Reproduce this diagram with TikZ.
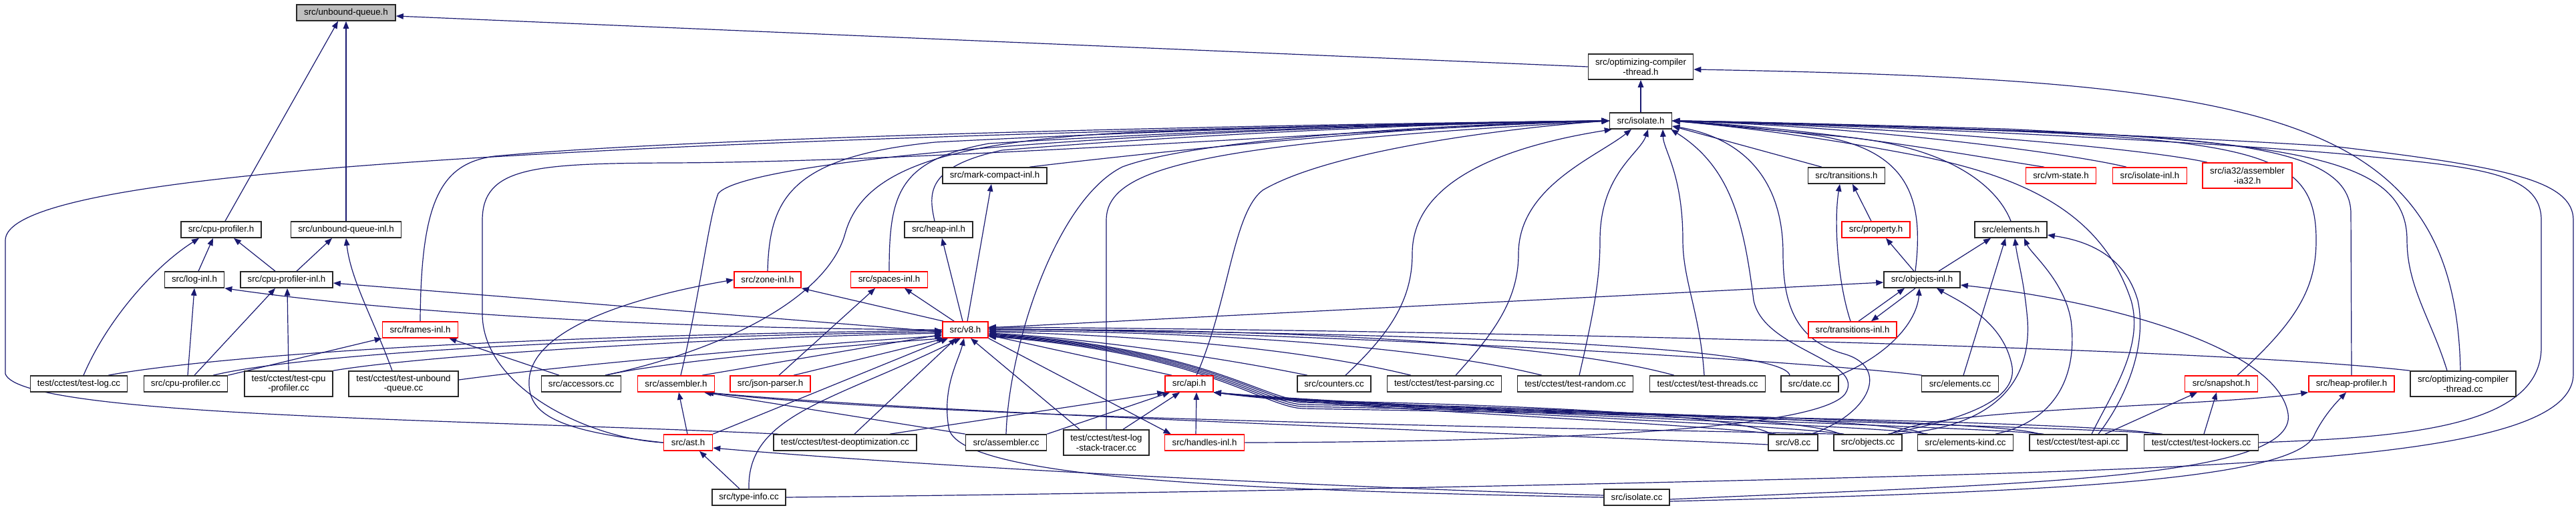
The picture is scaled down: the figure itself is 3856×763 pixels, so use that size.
\documentclass[tikz,border=0pt]{standalone}
\usepackage{fontspec}
\setmainfont{Liberation Sans}
\usetikzlibrary{arrows.meta}
\definecolor{eb}{HTML}{191970}
\definecolor{rootgray}{HTML}{BFBFBF}
\pgfdeclarelayer{bg}
\pgfsetlayers{bg,main}
\tikzset{
  nbox/.style={draw=black!85, line width=1.6pt, fill=white, inner sep=0pt, minimum height=24pt, minimum width=#1, align=center, font=\fontsize{13.3}{14.5}\selectfont},
  rnbox/.style={nbox=#1, draw=red},
  tall/.style={minimum height=38pt},
  edg/.style={draw=eb, line width=1.2pt, -{Triangle[length=11pt,width=8.5pt,fill=eb]}},
}
\begin{document}
\begin{tikzpicture}[x=1pt,y=-1pt]
\useasboundingbox (0,0) rectangle (3856,763);
% row 0-3
\node[nbox=148pt,fill=rootgray] (uq) at (518,19) {src/unbound-queue.h};
\node[nbox=157pt,tall] (opth) at (2456,100) {src/optimizing-compiler\\-thread.h};
\node[nbox=93pt] (iso) at (2456,181) {src/isolate.h};
\node[nbox=156pt] (markinl) at (1489,263) {src/mark-compact-inl.h};
\node[nbox=115pt] (trans) at (2764,263) {src/transitions.h};
\node[rnbox=105pt] (vmstate) at (3085,263) {src/vm-state.h};
\node[rnbox=111pt] (isoinl) at (3218,263) {src/isolate-inl.h};
\node[rnbox=134pt,tall] (ia32) at (3364,263) {src/ia32/assembler\\-ia32.h};
% row 4
\node[nbox=120pt] (cpuprofh) at (331,344) {src/cpu-profiler.h};
\node[nbox=165pt] (uqinl) at (518,344) {src/unbound-queue-inl.h};
\node[nbox=102pt] (heapinl) at (1405,344) {src/heap-inl.h};
\node[rnbox=102pt] (property) at (2808,344) {src/property.h};
\node[nbox=108pt] (elementsh) at (3010,344) {src/elements.h};
% row 5
\node[nbox=89pt] (loginl) at (291,419) {src/log-inl.h};
\node[nbox=138pt] (cpuinl) at (429,419) {src/cpu-profiler-inl.h};
\node[rnbox=100pt] (zoneinl) at (1149,419) {src/zone-inl.h};
\node[rnbox=115pt] (spacesinl) at (1331,419) {src/spaces-inl.h};
\node[nbox=114pt] (objinl) at (2877,419) {src/objects-inl.h};
% row 6
\node[rnbox=113pt] (framesinl) at (629,494) {src/frames-inl.h};
\node[rnbox=68pt] (v8h) at (1445,494) {src/v8.h};
\node[rnbox=132pt] (transinl) at (2773,494) {src/transitions-inl.h};
% row 7
\node[nbox=145pt] (testlog) at (118,575) {test/cctest/test-log.cc};
\node[nbox=125pt] (cpucc) at (278,575) {src/cpu-profiler.cc};
\node[nbox=132pt,tall] (testcpu) at (432,575) {test/cctest/test-cpu\\-profiler.cc};
\node[nbox=164pt,tall] (testuq) at (604,575) {test/cctest/test-unbound\\-queue.cc};
\node[nbox=119pt] (accessors) at (870,575) {src/accessors.cc};
\node[rnbox=115pt] (asmh) at (1012,575) {src/assembler.h};
\node[rnbox=120pt] (json) at (1153,575) {src/json-parser.h};
\node[rnbox=72pt] (apih) at (1780,575) {src/api.h};
\node[nbox=110pt] (counters) at (1997,575) {src/counters.cc};
\node[nbox=171pt] (parsing) at (2162,575) {test/cctest/test-parsing.cc};
\node[nbox=173pt] (random) at (2358,575) {test/cctest/test-random.cc};
\node[nbox=173pt] (threads) at (2556,575) {test/cctest/test-threads.cc};
\node[nbox=86pt] (date) at (2709,575) {src/date.cc};
\node[nbox=115pt] (elemcc) at (2934,575) {src/elements.cc};
\node[rnbox=109pt] (snapshot) at (3325,575) {src/snapshot.h};
\node[rnbox=128pt] (heapprof) at (3520,575) {src/heap-profiler.h};
\node[nbox=158pt,tall] (optcc) at (3687,575) {src/optimizing-compiler\\-thread.cc};
% row 8
\node[rnbox=73pt] (ast) at (1030,663) {src/ast.h};
\node[nbox=214pt] (deopt) at (1265,663) {test/cctest/test-deoptimization.cc};
\node[nbox=121pt] (asmcc) at (1506,663) {src/assembler.cc};
\node[nbox=128pt,tall] (stack) at (1656,663) {test/cctest/test-log\\-stack-tracer.cc};
\node[rnbox=119pt] (handles) at (1803,663) {src/handles-inl.h};
\node[nbox=74pt] (v8cc) at (2684,663) {src/v8.cc};
\node[nbox=102pt] (objcc) at (2796,663) {src/objects.cc};
\node[nbox=143pt] (ekind) at (2942,663) {src/elements-kind.cc};
\node[nbox=146pt] (testapi) at (3111,663) {test/cctest/test-api.cc};
\node[nbox=171pt] (lockers) at (3295,663) {test/cctest/test-lockers.cc};
% row 9
\node[nbox=110pt] (typeinfo) at (1121,745) {src/type-info.cc};
\node[nbox=98pt] (isocc) at (2450,745) {src/isolate.cc};

\begin{pgfonlayer}{bg}
\fill[white] (0,0) rectangle (3856,763);
% unbound-queue.h
\draw[edg] ([xshift=6pt]cpuprofh.north) -- ([xshift=-12pt]uq.south);
\draw[edg] (uqinl.north) -- (uq.south);
\draw[edg] (opth.west) -- ([yshift=-5pt]uq.east);
% optimizing-compiler-thread.h
\draw[edg] (iso.north) -- (opth.south);
\draw[edg] ([xshift=-4pt]optcc.north) .. controls (3675,170) and (3400,120) .. ([yshift=-4pt]opth.east);
% isolate.h from the left
\draw[edg] ([xshift=8pt]deopt.north west) .. controls (700,628) and (30,625) .. (8,560) -- (8,360) .. controls (8,280) and (500,245) .. (1000,221) .. controls (1500,198) and (2150,184) .. (iso.west);
\draw[edg] (ast.west) .. controls (880,657) and (722,580) .. (722,470) -- (722,330) .. controls (722,250) and (800,245) .. (1000,244) .. controls (1400,243) and (2100,190) .. (iso.west);
\draw[edg] (ast.west) .. controls (830,645) and (790,620) .. (792,570) .. controls (795,500) and (920,450) .. (zoneinl.west);
\draw[edg] (framesinl.north) .. controls (630,300) and (660,245) .. (740,234) .. controls (1100,200) and (2150,183) .. (iso.west);
\draw[edg] ([xshift=36pt]accessors.north) .. controls (1100,520) and (1240,440) .. (1265,350) .. controls (1290,260) and (1400,212) .. (1700,198) .. controls (2000,188) and (2250,182) .. (iso.west);
\draw[edg] ([xshift=7pt]asmh.north) .. controls (1050,430) and (1060,330) .. (1075,290) .. controls (1110,245) and (1600,195) .. (iso.west);
\draw[edg] (zoneinl.north) .. controls (1152,300) and (1180,235) .. (1400,213) .. controls (1800,192) and (2200,183) .. (iso.west);
\draw[edg] (spacesinl.north) .. controls (1331,290) and (1345,240) .. (1480,215) .. controls (1800,195) and (2200,183) .. (iso.west);
\draw[edg] ([xshift=-6pt]heapinl.north) .. controls (1390,290) and (1385,250) .. (1500,225) .. controls (1800,200) and (2200,183) .. (iso.west);
\draw[edg] ([xshift=52pt]markinl.north) .. controls (1750,225) and (2150,185) .. (iso.west);
\draw[edg] (asmcc.north) .. controls (1510,520) and (1580,300) .. (1680,250) .. controls (1800,205) and (2200,185) .. (iso.west);
\draw[edg] (stack.north) -- (1656,330) .. controls (1656,250) and (1800,215) .. (iso.west);
\draw[edg] ([xshift=11pt]apih.north) .. controls (1840,450) and (1845,320) .. (1890,285) .. controls (2000,220) and (2300,188) .. (iso.west);
% isolate.h from below
\draw[edg] ([xshift=17pt]counters.north) .. controls (2080,500) and (2114,450) .. (2114,380) .. controls (2114,260) and (2280,215) .. ([xshift=4pt]iso.south west);
\draw[edg] ([xshift=17pt]parsing.north) .. controls (2235,500) and (2273,450) .. (2273,380) .. controls (2273,280) and (2390,235) .. ([xshift=-14pt]iso.south);
\draw[edg] ([xshift=6pt]random.north) .. controls (2385,470) and (2395,420) .. (2395,360) .. controls (2395,260) and (2455,230) .. ([xshift=11pt]iso.south);
\draw[edg] ([xshift=-5pt]threads.north) .. controls (2545,470) and (2519,420) .. (2519,360) .. controls (2519,260) and (2490,225) .. ([xshift=33pt]iso.south);
\draw[edg] (handles.east) .. controls (2300,662) and (2720,645) .. (2762,590) .. controls (2795,540) and (2640,525) .. (2625,450) .. controls (2610,330) and (2590,250) .. ([xshift=-2pt]iso.south east);
\draw[edg] ([xshift=27pt]v8cc.north) .. controls (2800,620) and (2830,550) .. (2760,530) .. controls (2690,510) and (2669,460) .. (2669,380) .. controls (2669,260) and (2600,205) .. ([yshift=-8pt]iso.east);
% isolate.h from the right
\draw[edg] ([xshift=-37pt]trans.north) -- ([yshift=-8pt]iso.east);
\draw[edg] ([xshift=-25pt]vmstate.north) .. controls (2960,235) and (2750,195) .. (iso.east);
\draw[edg] ([xshift=-35pt]isoinl.north) .. controls (3100,230) and (2800,190) .. (iso.east);
\draw[edg] ([xshift=-60pt]ia32.north) .. controls (3200,220) and (2800,188) .. (iso.east);
\draw[edg] (elementsh.north) .. controls (2990,280) and (2920,220) .. (2760,205) .. controls (2650,195) and (2560,186) .. (iso.east);
\draw[edg] ([xshift=-10pt]objinl.north) .. controls (2880,300) and (2860,225) .. (2720,203) .. controls (2620,190) and (2560,185) .. (iso.east);
\draw[edg] ([xshift=24pt]snapshot.north) .. controls (3440,480) and (3467,430) .. (3467,360) .. controls (3467,240) and (3400,212) .. (3000,196) .. controls (2750,187) and (2600,182) .. (iso.east);
\draw[edg] (heapprof.north) -- (3519,320) .. controls (3519,225) and (3350,207) .. (3000,195) .. controls (2750,187) and (2600,182) .. (iso.east);
\draw[edg] ([xshift=-24pt]optcc.north) .. controls (3640,480) and (3603,430) .. (3603,360) .. controls (3603,240) and (3450,215) .. (3000,193) .. controls (2750,186) and (2600,182) .. (iso.east);
\draw[edg] (lockers.east) .. controls (3600,655) and (3804,640) .. (3804,520) -- (3804,330) .. controls (3804,255) and (3700,250) .. (3500,230) .. controls (3200,205) and (2700,185) .. (iso.east);
\draw[edg] (typeinfo.east) .. controls (1800,738) and (2400,726) .. (2900,712) .. controls (3500,695) and (3852,670) .. (3852,560) -- (3852,330) .. controls (3852,270) and (3750,250) .. (3500,220) .. controls (3200,200) and (2700,184) .. (iso.east);
\draw[edg] ([xshift=20pt]testapi.north) .. controls (3160,590) and (3210,520) .. (3190,450) .. controls (3150,330) and (3050,270) .. (2880,235) .. controls (2700,200) and (2560,186) .. (iso.east);
% v8.h includes
\draw[edg] (v8h.west) .. controls (1000,492) and (600,470) .. (loginl.south east);
\draw[edg] ([yshift=-3pt]v8h.west) -- ([yshift=-5pt]cpuinl.east);
\draw[edg] ([xshift=2pt]v8h.north west) -- (zoneinl.south east);
\draw[edg] ([xshift=18pt]v8h.north west) -- ([xshift=23pt]spacesinl.south);
\draw[edg] ([xshift=-4pt]v8h.north) -- ([xshift=5pt]heapinl.south);
\draw[edg] ([xshift=3pt]v8h.north) -- ([xshift=-5pt]markinl.south);
\draw[edg] ([yshift=3pt]v8h.east) -- ([yshift=-4pt]objinl.west);
\draw[edg] (v8h.south east) -- ([xshift=10pt]handles.north west);
% users of v8.h
\draw[edg] ([xshift=44pt]testlog.north) .. controls (250,545) and (600,505) .. ([yshift=-1pt]v8h.west);
\draw[edg] ([xshift=41pt]cpucc.north) .. controls (450,530) and (900,505) .. ([yshift=-3pt]v8h.west);
\draw[edg] (testcpu.north east) .. controls (650,530) and (1100,505) .. ([yshift=-5pt]v8h.west);
\draw[edg] ([yshift=6pt]testuq.east) .. controls (900,540) and (1300,510) .. ([yshift=-9pt]v8h.west);
\draw[edg] ([xshift=36pt]accessors.north) .. controls (1000,540) and (1300,515) .. ([xshift=3pt]v8h.south west);
\draw[edg] ([xshift=39pt]asmh.north) -- ([yshift=-7pt]v8h.west);
\draw[edg] ([xshift=35pt]json.north) -- ([xshift=5pt]v8h.south west);
\draw[edg] (ast.north east) -- ([xshift=9pt]v8h.south west);
\draw[edg] ([xshift=14pt]deopt.north) -- ([xshift=-14pt]v8h.south);
\draw[edg] (typeinfo.north) .. controls (1118,620) and (1250,600) .. ([xshift=-7pt]v8h.south);
\draw[edg] (isocc.west) .. controls (1900,735) and (1430,720) .. (1420,640) .. controls (1410,580) and (1435,540) .. ([xshift=-2pt]v8h.south);
\draw[edg] ([xshift=-40pt]stack.north) -- ([xshift=8pt]v8h.south);
\draw[edg] ([xshift=-26pt]apih.north) -- ([yshift=-8pt]v8h.east);
\draw[edg] ([xshift=-40pt]counters.north) .. controls (1800,530) and (1600,505) .. ([yshift=-5pt]v8h.east);
\draw[edg] ([xshift=-50pt]parsing.north) .. controls (1900,510) and (1600,500) .. ([yshift=-3pt]v8h.east);
\draw[edg] ([xshift=-50pt]random.north) .. controls (2100,510) and (1700,495) .. ([yshift=-2pt]v8h.east);
\draw[edg] ([xshift=-50pt]threads.north) .. controls (2300,505) and (1800,492) .. (v8h.east);
\draw[edg] ([xshift=-30pt]date.north) .. controls (2670,520) and (2200,500) .. ([yshift=1pt]v8h.east);
\draw[edg] ([xshift=-57pt]elemcc.north) .. controls (2700,540) and (2000,500) .. ([yshift=2pt]v8h.east);
\draw[edg] (optcc.north west) .. controls (3300,520) and (2200,495) .. ([yshift=4pt]v8h.east);
\draw[edg] ([xshift=5pt]v8cc.north west) .. controls (2600,618) and (2200,605) .. (1950,600) .. controls (1890,598) and (1800,520) .. ([yshift=-6pt]v8h.east);
\draw[edg] ([xshift=10pt]objcc.north west) .. controls (2700,622) and (2200,608) .. (1950,603) .. controls (1890,600) and (1800,522) .. ([yshift=-7pt]v8h.east);
\draw[edg] ([xshift=10pt]ekind.north west) .. controls (2850,625) and (2200,611) .. (1950,606) .. controls (1890,603) and (1800,524) .. ([yshift=-8pt]v8h.east);
\draw[edg] ([xshift=15pt]testapi.north west) .. controls (3000,628) and (2200,614) .. (1950,609) .. controls (1890,606) and (1800,526) .. ([yshift=-9pt]v8h.east);
\draw[edg] ([xshift=20pt]lockers.north west) .. controls (3150,630) and (2200,617) .. (1950,612) .. controls (1890,609) and (1800,528) .. ([yshift=-10pt]v8h.east);
% api.h
\draw[edg] ([xshift=67pt]deopt.north) -- (apih.south west);
\draw[edg] (asmcc.north east) -- ([xshift=8pt]apih.south west);
\draw[edg] ([xshift=25pt]stack.north) -- ([xshift=-14pt]apih.south);
\draw[edg] ([xshift=-13pt]handles.north) -- ([xshift=11pt]apih.south);
\draw[edg] ([xshift=12pt]v8cc.north west) .. controls (2500,632) and (2000,612) .. (apih.south east);
\draw[edg] ([xshift=16pt]objcc.north west) .. controls (2650,634) and (2050,614) .. (apih.south east);
\draw[edg] ([xshift=16pt]ekind.north west) .. controls (2800,636) and (2100,616) .. (apih.south east);
\draw[edg] ([xshift=22pt]testapi.north west) .. controls (2950,638) and (2150,618) .. (apih.south east);
\draw[edg] ([xshift=28pt]lockers.north west) .. controls (3150,640) and (2200,620) .. (apih.south east);
% assembler.h
\draw[edg] ([xshift=-1pt]ast.north) -- ([xshift=4pt]asmh.south);
\draw[edg] (asmcc.north west) -- ([xshift=42pt]asmh.south);
\draw[edg] ([yshift=-3pt]v8cc.west) .. controls (2300,650) and (1400,620) .. ([xshift=45pt]asmh.south);
\draw[edg] ([xshift=4pt]objcc.north west) .. controls (2400,642) and (1400,628) .. ([xshift=45pt]asmh.south);
% ast.h
\draw[edg] ([xshift=-14pt]typeinfo.north) -- ([xshift=17pt]ast.south);
\draw[edg] ([yshift=3pt]isocc.west) .. controls (2000,730) and (1400,700) .. ([yshift=-8pt]ast.east);
% frames-inl.h
\draw[edg] (cpucc.north east) -- (framesinl.south west);
\draw[edg] ([xshift=-33pt]accessors.north) -- ([xshift=-14pt]framesinl.south east);
% cpu-profiler.h and friends
\draw[edg] ([xshift=6pt]loginl.north) -- ([xshift=-12pt]cpuprofh.south);
\draw[edg] ([xshift=-17pt]cpuinl.north) -- ([xshift=19pt]cpuprofh.south);
\draw[edg] ([xshift=7pt]testlog.north) .. controls (160,480) and (230,400) .. ([xshift=-33pt]cpuprofh.south);
\draw[edg] ([xshift=15pt]cpuinl.north) -- ([xshift=-21pt]uqinl.south);
\draw[edg] ([xshift=-17pt]testuq.north) .. controls (560,480) and (525,420) .. (uqinl.south);
\draw[edg] ([xshift=3pt]cpucc.north) -- (loginl.south);
\draw[edg] ([xshift=13pt]cpucc.north) -- ([xshift=-17pt]cpuinl.south);
\draw[edg] (testcpu.north) -- ([xshift=1pt]cpuinl.south);
% spaces-inl.h
\draw[edg] ([xshift=13pt]json.north) -- ([xshift=-21pt]spacesinl.south);
% transitions / property / objects-inl
\draw[edg] ([xshift=-7pt]property.north) -- ([xshift=9pt]trans.south);
\draw[edg] ([xshift=-3pt]transinl.north) .. controls (2750,420) and (2745,330) .. ([xshift=-10pt]trans.south);
\draw[edg] ([xshift=-12pt]objinl.north) -- ([xshift=15pt]property.south);
\draw[edg] ([xshift=9pt]transinl.north) -- ([xshift=-26pt]objinl.south);
\draw[edg] ([xshift=-10pt]objinl.south) -- ([xshift=28pt]transinl.north);
\draw[edg] (date.north east) .. controls (2830,530) and (2870,480) .. ([xshift=-4pt]objinl.south);
\draw[edg] ([yshift=-3pt]isocc.east) .. controls (3000,725) and (3440,720) .. (3425,620) .. controls (3410,520) and (3150,450) .. ([yshift=-8pt]objinl.east);
\draw[edg] ([xshift=30pt]objcc.north) .. controls (2900,635) and (3020,610) .. (3012,550) .. controls (3000,480) and (2930,450) .. ([xshift=22pt]objinl.south);
% elements.h
\draw[edg] ([xshift=25pt]objinl.north) -- ([xshift=-30pt]elementsh.south);
\draw[edg] ([xshift=5pt]elemcc.north) -- ([xshift=-8pt]elementsh.south);
\draw[edg] ([xshift=40pt]objcc.north) .. controls (3000,640) and (3040,560) .. (3035,480) .. controls (3030,420) and (3020,390) .. ([xshift=6pt]elementsh.south);
\draw[edg] ([xshift=45pt]ekind.north) .. controls (3080,630) and (3110,560) .. (3100,480) .. controls (3090,420) and (3040,380) .. ([xshift=20pt]elementsh.south);
\draw[edg] ([xshift=30pt]testapi.north) .. controls (3180,600) and (3215,520) .. (3200,450) .. controls (3180,380) and (3120,360) .. ([yshift=-8pt]elementsh.east);
% snapshot.h / heap-profiler.h
\draw[edg] ([xshift=40pt]testapi.north) -- ([xshift=-36pt]snapshot.south);
\draw[edg] ([xshift=4pt]lockers.north) -- ([xshift=-7pt]snapshot.south);
\draw[edg] ([xshift=34pt]objcc.north) .. controls (2900,610) and (3300,610) .. (heapprof.south west);
\draw[edg] ([yshift=-6pt]isocc.east) .. controls (3000,738) and (3440,725) .. (3465,650) .. controls (3480,620) and (3500,600) .. ([xshift=-8pt]heapprof.south);
\end{pgfonlayer}
\end{tikzpicture}
\end{document}
